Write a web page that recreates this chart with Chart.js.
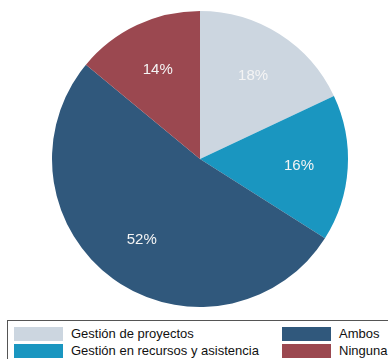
<!DOCTYPE html>
<html>
<head>
<meta charset="utf-8">
<script src="https://cdn.jsdelivr.net/npm/chart.js@4"></script>
<style>
  body { margin: 0; background: #fff; font-family: "Liberation Sans", Arial, sans-serif; }
  .wrap { position: relative; width: 388px; height: 318px; }
  .legend {
    position: absolute; left: 7px; top: 320px; width: 390px; height: 44px;
    border: 1px solid #555; box-sizing: border-box;
  }
  .item { position: absolute; font-size: 13px; color: #111; line-height: 14px; }
  .item span.sw { position: absolute; left: 0; top: 0; width: 49px; height: 14px; }
  .item span.tx { position: absolute; left: 57px; top: 0; white-space: nowrap; }
</style>
</head>
<body>
<div class="wrap"><canvas id="pie"></canvas></div>
<div class="legend" id="legend"></div>
<script>
const categories = ['Gestión de proyectos', 'Gestión en recursos y asistencia', 'Ambos', 'Ninguna'];
const shares = [18, 16, 52, 14];
const colors = ['#ccd6e0', '#1a96c0', '#30587c', '#9b4850'];

// percent labels in the middle of each slice
const sliceLabels = {
  id: 'sliceLabels',
  afterDatasetsDraw(chart) {
    const ctx = chart.ctx;
    const meta = chart.getDatasetMeta(0);
    ctx.save();
    ctx.font = '15px "Liberation Sans", Arial, sans-serif';
    ctx.fillStyle = '#f4f4f4';
    ctx.textAlign = 'center';
    ctx.textBaseline = 'middle';
    meta.data.forEach((arc, i) => {
      const mid = (arc.startAngle + arc.endAngle) / 2;
      const r = arc.outerRadius * 0.67;
      ctx.fillText(shares[i] + '%', arc.x + Math.cos(mid) * r, arc.y + Math.sin(mid) * r + 1);
    });
    ctx.restore();
  }
};

new Chart(document.getElementById('pie'), {
  type: 'pie',
  data: {
    labels: categories,
    datasets: [{ data: shares, backgroundColor: colors, borderWidth: 0 }]
  },
  options: {
    responsive: true,
    maintainAspectRatio: false,
    animation: false,
    layout: { padding: { top: 11, bottom: 11, left: 12, right: 0 } },
    plugins: { legend: { display: false }, tooltip: { enabled: false } }
  },
  plugins: [sliceLabels]
});

// legend in two columns: first two entries left, last two right
const legend = document.getElementById('legend');
const spots = [[6, 6], [6, 23], [274, 6], [274, 23]];
categories.forEach((name, i) => {
  const el = document.createElement('div');
  el.className = 'item';
  el.style.left = spots[i][0] + 'px';
  el.style.top = spots[i][1] + 'px';
  el.innerHTML = '<span class="sw" style="background:' + colors[i] + '"></span><span class="tx">' + name + '</span>';
  legend.appendChild(el);
});
</script>
</body>
</html>
